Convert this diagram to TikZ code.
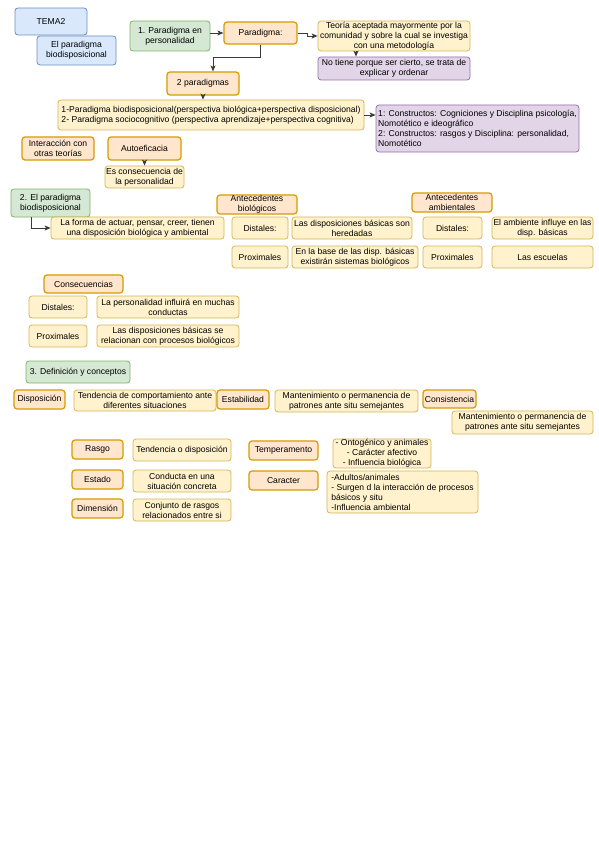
\documentclass[tikz,border=0pt]{standalone}
\usepackage{fontspec}
\setmainfont{Liberation Sans}
\usepackage{tikz}
\usetikzlibrary{arrows.meta}

\definecolor{amarilloF}{HTML}{FFF2CC}
\definecolor{amarilloB}{HTML}{D6B656}
\definecolor{naranjaF}{HTML}{FFE6CC}
\definecolor{naranjaB}{HTML}{D79B00}
\definecolor{verdeF}{HTML}{D5E8D4}
\definecolor{verdeB}{HTML}{82B366}
\definecolor{azulF}{HTML}{DAE8FC}
\definecolor{azulB}{HTML}{6C8EBF}
\definecolor{moradoF}{HTML}{E1D5E7}
\definecolor{moradoB}{HTML}{9673A6}
\definecolor{linea}{HTML}{3A3A3A}

\begin{document}
\begin{tikzpicture}[x=1pt, y=-1pt, >={Stealth[length=6pt, width=5pt, inset=1.5pt]},
    every node/.style={font=\fontsize{8.6}{10}\selectfont, inner sep=0.5pt, rounded corners=3pt, align=center},
    tam/.style 2 args={minimum width=#1, minimum height=#2},
    amarillo/.style={draw=amarilloB, fill=amarilloF, line width=0.8pt},
    naranja/.style={draw=naranjaB, fill=naranjaF, line width=1.2pt},
    verde/.style={draw=verdeB, fill=verdeF, line width=0.8pt},
    azul/.style={draw=azulB, fill=azulF, line width=0.8pt},
    morado/.style={draw=moradoB, fill=moradoF, line width=0.8pt},
    flecha/.style={->, draw=linea, line width=0.9pt}]
    \fill[white] (0,0) rectangle (599,848);
    \useasboundingbox (0,0) rectangle (599,848);

    % Título
    \node[azul, tam={72}{27}] (tema) at (51,21.5) {TEMA2};
    \node[azul, tam={79}{29}] (biodisp) at (76.5,50.5) {El paradigma\\biodisposicional};

    % 1. Paradigma en personalidad
    \node[verde, tam={80}{30}] (p1) at (170,36) {1. Paradigma en\\personalidad};
    \node[naranja, tam={73}{22}] (par) at (260.5,33) {Paradigma:};
    \node[amarillo, tam={152}{30}] (teoria) at (394,36) {Teoría aceptada mayormente por la\\comunidad y sobre la cual se investiga\\con una metodología};
    \node[morado, tam={152}{23}] (notiene) at (394,68.5) {No tiene porque ser cierto, se trata de\\explicar y ordenar};
    \node[naranja, tam={72}{23}] (dospar) at (203,83.5) {2 paradigmas};
    \node[amarillo, tam={306}{30}, align=left] (lista) at (211,115) {1-Paradigma biodisposicional(perspectiva biológica+perspectiva disposicional)\\2- Paradigma sociocognitivo (perspectiva aprendizaje+perspectiva cognitiva)};
    \node[morado, tam={203}{47}, align=left] (constr) at (477.5,128.5) {1: Constructos: Cogniciones y Disciplina psicología,\\Nomotético e ideográfico\\2: Constructos: rasgos y Disciplina: personalidad,\\Nomotético};
    \node[naranja, tam={72}{23}] (inter) at (58,148.5) {Interacción con\\otras teorías};
    \node[naranja, tam={73}{23}] (auto) at (144.5,148.5) {Autoeficacia};
    \node[amarillo, tam={79}{22}] (conse) at (144.5,177) {Es consecuencia de\\la personalidad};

    \draw[flecha] (p1.east |- par.west) -- (par.west);
    \draw[flecha] (par.east) -- ++(10,0) |- (teoria.west);
    \draw[flecha] ([xshift=-38pt]teoria.south) -- ([xshift=-38pt]notiene.north);
    \draw[flecha] (par.south) -- ++(0,13) -| ([xshift=10pt]dospar.north);
    \draw[flecha] (dospar.south) -- (dospar.south |- lista.north);
    \draw[flecha] (lista.east) -- (lista.east -| constr.west);
    \draw[flecha] (auto.south) -- (conse.north);

    % 2. El paradigma biodisposicional
    \node[verde, tam={79}{28}] (p2) at (50.5,203) {2. El paradigma\\biodisposicional};
    \node[amarillo, tam={173}{22}] (forma) at (137.5,228) {La forma de actuar, pensar, creer, tienen\\una disposición biológica y ambiental};
    \draw[flecha] ([xshift=-19.5pt]p2.south) |- (forma.west);

    % Antecedentes
    \node[naranja, tam={80}{17}] (antbio) at (257,204.5) {Antecedentes\\biológicos};
    \node[amarillo, tam={56}{22}] (dist1) at (260,228) {Distales:};
    \node[amarillo, tam={120}{22}] (hered) at (352,228) {Las disposiciones básicas son\\heredadas};
    \node[amarillo, tam={56}{22}] (prox1) at (260,257) {Proximales};
    \node[amarillo, tam={126}{22}] (base) at (355,257) {En la base de las disp. básicas\\existirán sistemas biológicos};
    \node[naranja, tam={80}{19}] (antamb) at (452,202.5) {Antecedentes\\ambientales};
    \node[amarillo, tam={59}{22}] (dist2) at (452.5,228) {Distales:};
    \node[amarillo, tam={101}{22}] (ambinf) at (542.5,228) {El ambiente influye en las\\disp. básicas};
    \node[amarillo, tam={59}{22}] (prox2) at (452.5,257) {Proximales};
    \node[amarillo, tam={101}{22}] (escuelas) at (542.5,257) {Las escuelas};

    % Consecuencias
    \node[naranja, tam={79}{18}] (consec) at (83.5,284) {Consecuencias};
    \node[amarillo, tam={58}{22}] (dist3) at (58,307) {Distales:};
    \node[amarillo, tam={142}{22}] (influ) at (168,307) {La personalidad influirá en muchas\\conductas};
    \node[amarillo, tam={58}{22}] (prox3) at (58,336) {Proximales};
    \node[amarillo, tam={142}{22}] (relac) at (168,336) {Las disposiciones básicas se\\relacionan con procesos biológicos};

    % 3. Definición y conceptos
    \node[verde, tam={104}{22}] (p3) at (78,372) {3. Definición y conceptos};
    \node[naranja, tam={51}{19}] (dispo) at (39.5,399.5) {Disposición};
    \node[amarillo, tam={142}{21}] (tend) at (145,400.5) {Tendencia de comportamiento ante\\diferentes situaciones};
    \node[naranja, tam={52}{19}] (estab) at (243,399.5) {Estabilidad};
    \node[amarillo, tam={143}{22}] (mant1) at (346.5,401) {Mantenimiento o permanencia de\\patrones ante situ semejantes};
    \node[naranja, tam={53}{18}] (consis) at (449.5,399) {Consistencia};
    \node[amarillo, tam={141}{23}] (mant2) at (522.5,422.5) {Mantenimiento o permanencia de\\patrones ante situ semejantes};

    \node[naranja, tam={51}{19}] (rasgo) at (97.5,449.5) {Rasgo};
    \node[amarillo, tam={98}{22}] (tdisp) at (182,450) {Tendencia o disposición};
    \node[naranja, tam={51}{19}] (estado) at (97.5,479.5) {Estado};
    \node[amarillo, tam={98}{22}] (conduc) at (182,481) {Conducta en una\\situación concreta};
    \node[naranja, tam={51}{19}] (dimen) at (97.5,508.5) {Dimensión};
    \node[amarillo, tam={98}{22}] (conj) at (182,510) {Conjunto de rasgos\\relacionados entre si};

    \node[naranja, tam={69}{19}] (temp) at (283.5,450.5) {Temperamento};
    \node[amarillo, tam={98}{27}] (onto) at (382,453.5) {- Ontogénico y animales\\- Carácter afectivo\\- Influencia biológica};
    \node[naranja, tam={69}{19}] (carac) at (283.5,480.5) {Caracter};
    \node[amarillo, tam={151}{42}, align=left] (adult) at (402.5,492) {-Adultos/animales\\- Surgen d la interacción de procesos\\básicos y situ\\-Influencia ambiental};
\end{tikzpicture}
\end{document}
